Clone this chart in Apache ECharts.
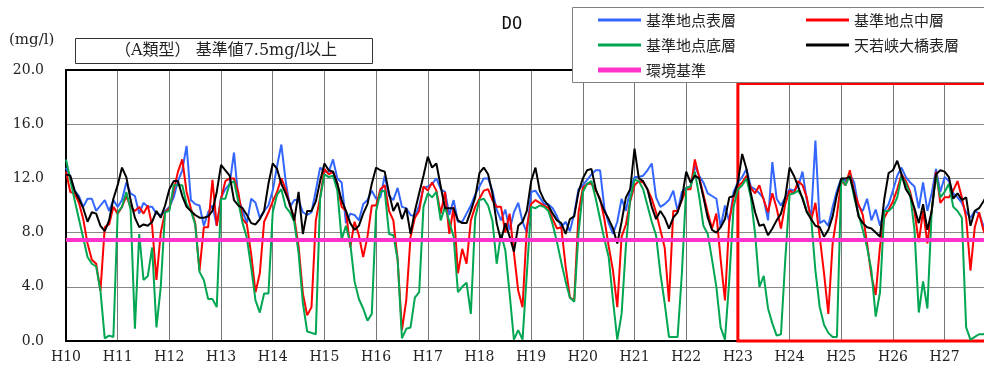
<!DOCTYPE html>
<html>
<head>
<meta charset="utf-8">
<script src="https://cdn.jsdelivr.net/npm/echarts@6/dist/echarts.min.js"></script>
<style>
  html, body { margin: 0; padding: 0; background: #fff; }
  #chart { width: 984px; height: 370px; }
</style>
</head>
<body>
<div id="chart"></div>
<script>
// Fiscal years shown on the time axis (one label per 12 monthly samples)
const years = ['H10','H11','H12','H13','H14','H15','H16','H17','H18','H19',
               'H20','H21','H22','H23','H24','H25','H26','H27'];
const monthNumbers = [1,2,3,4,5,6,7,8,9,10,11,12];

// Y axis range (mg/l)
const yMin = 0, yMax = 20, yStep = 4;

// Environmental standard for type A waters (mg/l)
const standard = 7.5;

// Highlighted period (from H23 onward)
const highlightFrom = 'H23-1';
const highlightTop = 19;

// Monthly DO (mg/l) - 基準地点表層
const surface = [
  12.8, 12.1, 11.1, 10.7, 9.9, 10.5, 10.5, 9.6, 10.0, 10.4, 9.6, 10.4,
  9.9, 10.4, 11.7, 10.9, 10.7, 9.4, 10.2, 9.9, 9.9, 9.4, 9.3, 9.6,
  9.9, 10.6, 11.8, 12.6, 14.4, 10.4, 10.1, 10.0, 8.5, 9.5, 10.0, 8.5,
  10.6, 11.2, 11.6, 13.9, 10.6, 9.6, 8.7, 10.5, 10.2, 9.1, 9.6, 10.0,
  11.1, 12.9, 14.5, 11.8, 9.9, 10.4, 10.4, 9.5, 9.3, 9.5, 11.1, 12.8,
  12.5, 12.5, 13.4, 12.0, 11.7, 8.7, 9.4, 9.3, 8.9, 10.1, 10.4, 11.1,
  10.5, 10.6, 12.2, 10.7, 10.4, 11.3, 9.9, 9.8, 9.3, 9.2, 10.0, 11.3,
  11.4, 11.6, 12.0, 11.2, 11.0, 9.3, 10.4, 8.8, 8.8, 9.4, 10.0, 10.8,
  11.4, 12.0, 12.0, 11.1, 9.7, 8.9, 9.7, 8.2, 9.5, 10.2, 8.8, 8.0,
  11.0, 11.1, 10.6, 10.1, 10.1, 9.8, 9.2, 8.4, 8.8, 8.1, 9.4, 11.2,
  11.5, 11.9, 12.3, 12.6, 12.6, 9.8, 8.7, 7.9, 8.8, 10.5, 9.6, 11.2,
  12.1, 12.1, 12.2, 12.6, 13.1, 10.6, 9.9, 10.1, 10.4, 11.1, 9.6, 11.0,
  11.3, 11.4, 12.9, 12.2, 11.7, 10.9, 10.7, 10.5, 8.4, 10.0, 8.8, 11.0,
  11.7, 12.1, 12.7, 11.4, 11.2, 10.9, 10.5, 8.9, 13.2, 10.5, 10.0, 10.6,
  11.2, 11.1, 11.4, 12.5, 10.4, 9.1, 14.8, 8.7, 8.9, 8.5, 9.9, 11.1,
  12.0, 11.8, 12.3, 11.7, 9.9, 9.6, 10.5, 8.9, 9.7, 8.5, 9.6, 10.1,
  11.1, 12.2, 12.8, 12.1, 11.7, 11.4, 9.8, 11.7, 9.6, 10.9, 12.7, 11.0,
  12.1, 11.8, 10.9, 10.6, 10.2, 9.5, 9.1, 9.6, 9.4, 8.5, 8.3
];

// Monthly DO (mg/l) - 基準地点中層
const middle = [
  12.5, 11.0, 10.9, 10.2, 9.0, 7.2, 6.0, 5.7, 3.7, 8.4, 8.6, 9.9,
  9.4, 9.9, 10.7, 9.9, 9.6, 9.9, 9.4, 10.0, 8.5, 4.5, 8.0, 9.5,
  9.8, 11.1, 12.5, 13.4, 11.0, 9.8, 8.7, 5.2, 8.4, 8.4, 11.9, 8.5,
  10.5, 11.8, 12.0, 12.0, 11.0, 9.0, 8.6, 6.4, 3.6, 5.0, 8.8, 9.5,
  10.3, 11.0, 12.0, 11.2, 10.0, 9.1, 7.0, 3.5, 1.9, 2.5, 8.9, 10.6,
  12.7, 12.3, 12.5, 11.6, 9.9, 9.6, 6.9, 8.8, 7.8, 6.2, 7.7, 10.0,
  10.0, 11.2, 11.5, 9.6, 8.9, 6.0, 0.8, 3.0, 7.7, 9.1, 9.6, 11.4,
  11.1, 11.7, 11.1, 9.4, 11.0, 7.9, 9.9, 5.0, 6.8, 5.7, 8.9, 9.9,
  10.5, 11.1, 11.2, 10.4, 9.9, 9.9, 8.0, 9.4, 6.5, 3.7, 2.5, 8.4,
  10.1, 10.4, 10.2, 10.0, 9.8, 9.0, 8.3, 8.4, 5.5, 3.2, 3.0, 9.5,
  11.3, 11.6, 11.6, 11.1, 10.5, 9.0, 7.0, 5.2, 2.5, 7.7, 8.6, 10.3,
  11.5, 11.8, 11.7, 11.2, 10.5, 9.5, 8.2, 6.9, 2.9, 9.6, 9.6, 10.4,
  11.2, 11.2, 13.4, 12.1, 10.8, 9.5, 8.3, 9.4, 6.0, 3.0, 8.9, 10.6,
  11.4, 11.7, 12.2, 11.3, 10.9, 11.5, 10.4, 9.5, 10.9, 9.8, 8.3, 10.1,
  11.1, 10.9, 11.8, 11.5, 10.6, 8.9, 10.2, 7.7, 5.0, 2.0, 7.2, 9.3,
  11.8, 11.5, 12.6, 11.0, 10.1, 9.3, 7.2, 4.8, 3.4, 7.0, 9.1, 9.7,
  10.3, 11.2, 12.3, 11.8, 11.0, 9.6, 7.3, 9.6, 7.2, 9.6, 12.5, 10.2,
  10.6, 10.6, 11.1, 11.8, 10.6, 9.1, 5.2, 8.4, 9.5, 8.2, 7.4
];

// Monthly DO (mg/l) - 基準地点底層
const bottom = [
  13.4, 11.9, 10.4, 9.0, 7.6, 6.2, 5.7, 5.5, 3.7, 0.2, 0.4, 0.3,
  9.5, 9.9, 11.0, 9.7, 0.9, 7.9, 4.5, 4.8, 6.9, 1.0, 4.0, 9.5,
  9.6, 11.5, 11.5, 11.5, 10.1, 9.6, 8.6, 5.1, 4.5, 3.1, 3.1, 2.5,
  10.5, 10.5, 11.6, 11.8, 10.3, 8.7, 7.6, 5.4, 3.0, 2.1, 3.5, 3.5,
  9.5, 10.8, 11.2, 9.9, 9.5, 8.8, 6.5, 2.8, 0.7, 0.6, 0.5, 10.5,
  12.3, 12.1, 12.2, 11.1, 7.5, 8.5, 7.2, 4.4, 3.1, 2.4, 1.5, 2.0,
  9.6, 11.0, 11.1, 7.9, 7.8, 6.0, 0.2, 0.9, 1.0, 3.2, 3.6, 9.9,
  10.9, 10.6, 11.0, 8.9, 9.9, 8.8, 7.7, 3.6, 4.0, 4.3, 2.0, 9.1,
  10.4, 10.5, 10.0, 8.9, 5.7, 7.9, 6.7, 3.5, 0.1, 0.8, 0.1, 5.0,
  9.9, 9.8, 10.0, 9.9, 9.6, 8.6, 7.3, 5.8, 4.4, 3.2, 2.9, 8.0,
  11.0, 11.6, 11.8, 10.5, 9.0, 7.5, 6.2, 3.0, 0.1, 2.0, 7.0, 10.5,
  11.9, 11.8, 11.2, 10.0, 8.8, 7.8, 5.0, 2.8, 0.3, 0.3, 0.3, 5.0,
  11.3, 11.4, 12.5, 10.7, 8.5, 7.9, 6.0, 4.0, 1.0, 0.1, 4.5, 9.9,
  11.2, 11.5, 12.0, 10.6, 7.9, 4.0, 4.8, 2.4, 1.3, 0.4, 0.5, 6.0,
  10.8, 10.9, 11.1, 10.6, 9.6, 9.1, 5.2, 2.5, 1.2, 0.6, 0.3, 0.3,
  12.0, 11.5, 12.2, 10.6, 9.4, 8.2, 6.9, 5.2, 1.8, 3.6, 9.6, 9.6,
  9.9, 10.6, 12.2, 11.6, 10.8, 8.2, 2.1, 4.4, 2.4, 9.6, 12.3, 10.6,
  11.0, 11.6, 9.9, 9.6, 9.1, 1.0, 0.1, 0.3, 0.5, 0.5, 0.6
];

// Monthly DO (mg/l) - 天若峡大橋表層
const bridge = [
  12.3, 12.2, 11.1, 10.5, 9.8, 8.8, 9.5, 9.4, 8.5, 8.1, 8.9, 10.5,
  11.5, 12.8, 12.1, 10.4, 9.1, 8.4, 8.6, 8.5, 8.8, 9.6, 9.1, 10.0,
  11.2, 11.8, 11.8, 10.7, 9.9, 9.6, 9.3, 9.1, 9.1, 9.2, 9.6, 11.0,
  13.0, 12.6, 12.2, 10.4, 10.0, 9.8, 9.3, 8.7, 8.6, 9.0, 9.6, 11.6,
  13.1, 12.7, 11.6, 10.9, 10.1, 8.9, 11.0, 7.9, 9.6, 9.6, 10.3, 11.8,
  13.1, 12.6, 12.5, 11.6, 10.4, 9.6, 8.7, 8.2, 8.5, 9.4, 10.1, 11.6,
  12.8, 12.6, 12.5, 10.9, 9.6, 10.2, 9.0, 9.8, 7.9, 9.6, 10.9, 12.2,
  13.6, 12.8, 13.1, 11.4, 9.8, 9.8, 9.8, 8.9, 8.7, 8.7, 9.6, 10.6,
  12.4, 12.8, 12.3, 10.9, 8.7, 7.4, 8.7, 7.7, 6.6, 8.5, 8.8, 9.6,
  11.8, 12.8, 11.1, 10.4, 10.0, 9.4, 8.9, 8.7, 7.9, 9.0, 9.2, 11.0,
  12.0, 12.6, 12.7, 11.2, 10.4, 9.6, 9.0, 8.3, 7.2, 8.8, 10.6, 11.2,
  14.2, 12.0, 11.8, 11.2, 9.9, 9.0, 9.6, 9.1, 8.3, 9.1, 9.5, 10.5,
  12.5, 11.7, 12.2, 12.0, 10.6, 9.1, 8.2, 8.0, 8.4, 9.0, 10.6, 10.7,
  11.7, 13.8, 12.7, 10.9, 9.5, 8.5, 8.6, 7.8, 8.3, 8.9, 9.4, 10.6,
  12.8, 12.2, 11.4, 10.5, 9.5, 9.0, 8.5, 8.4, 7.7, 8.2, 9.2, 10.8,
  12.0, 12.0, 12.1, 10.9, 9.2, 8.7, 8.4, 8.3, 8.0, 7.7, 10.5, 12.4,
  12.6, 13.3, 12.3, 11.2, 10.7, 9.8, 8.7, 10.1, 8.2, 9.6, 12.3, 12.6,
  12.5, 12.1, 10.5, 10.9, 10.4, 10.6, 8.5, 9.6, 9.8, 10.3, 10.9
];

// Monthly categories: "H10-1" ... "H27-12"
const months = [];
years.forEach(y => monthNumbers.forEach(m => months.push(y + '-' + m)));

const isYearStart = (idx) => idx % 12 === 0;

const serifFont = '"DejaVu Serif", "Noto Sans CJK JP", serif';
const gothicFont = '"Noto Sans CJK JP", "DejaVu Sans", sans-serif';

function lineSeries(name, data, color) {
  return {
    name: name,
    type: 'line',
    data: data,
    symbol: 'none',
    smooth: false,
    lineStyle: { color: color, width: 2 },
    itemStyle: { color: color },
    emphasis: { disabled: true },
    animation: false
  };
}

const chart = echarts.init(document.getElementById('chart'), null, { renderer: 'canvas' });

const legendText = { fontFamily: gothicFont, fontSize: 15, color: '#222', lineHeight: 18 };

// Legend rows: line icons drawn as flat bars
function legendRow(top, names, barHeight) {
  return {
    left: 598, top: top, padding: 0,
    icon: 'rect', itemWidth: 43, itemHeight: barHeight, itemGap: 70,
    selectedMode: false, z: 20,
    data: names,
    textStyle: legendText
  };
}

const option = {
  animation: false,
  // the plot runs past the right edge of the canvas
  grid: {
    left: 66, top: 70, width: 926, bottom: 29,
    containLabel: false,
    outerBoundsMode: 'none'
  },
  xAxis: [
    {
      type: 'category',
      data: months,
      boundaryGap: false,
      axisLine: { lineStyle: { color: '#000', width: 2 } },
      axisTick: { show: false },
      axisLabel: {
        interval: isYearStart,
        formatter: v => v.split('-')[0],
        margin: 9,
        fontFamily: serifFont,
        fontSize: 14,
        color: '#222'
      },
      splitLine: { show: true, interval: isYearStart, lineStyle: { color: '#777', width: 1 } }
    },
    {
      type: 'category',
      data: months,
      boundaryGap: false,
      position: 'top',
      axisLine: { lineStyle: { color: '#000', width: 2 } },
      axisTick: { show: false },
      axisLabel: { show: false },
      splitLine: { show: false }
    }
  ],
  yAxis: {
    type: 'value',
    min: yMin,
    max: yMax,
    interval: yStep,
    axisLine: { show: true, lineStyle: { color: '#000', width: 2 } },
    axisTick: { show: false },
    axisLabel: {
      formatter: v => v.toFixed(1),
      margin: 22,
      fontFamily: serifFont,
      fontSize: 14,
      color: '#222'
    },
    splitLine: { lineStyle: { color: '#888', width: 1 } }
  },
  legend: [
    legendRow(11, ['基準地点表層', '基準地点中層'], 3),
    legendRow(36, ['基準地点底層', '天若峡大橋表層'], 3),
    legendRow(61, ['環境基準'], 5)
  ],
  graphic: [
    {
      type: 'rect', z: 10, silent: true,
      shape: { x: 572.5, y: 7.5, width: 430, height: 75 },
      style: { fill: '#fff', stroke: '#808080', lineWidth: 1 }
    },
    {
      type: 'rect', z: 10, silent: true,
      shape: { x: 75.5, y: 38.5, width: 297, height: 25 },
      style: { fill: '#fff', stroke: '#333', lineWidth: 1 }
    },
    {
      type: 'text', z: 11, silent: true, x: 226, y: 51,
      style: {
        text: '（A類型） 基準値7.5mg/l以上',
        font: '16px ' + serifFont,
        fill: '#222', align: 'center', verticalAlign: 'middle'
      }
    },
    {
      type: 'text', z: 11, silent: true, x: 9, y: 40,
      style: {
        text: '(mg/l)',
        font: '15px ' + serifFont,
        fill: '#222', align: 'left', verticalAlign: 'middle'
      }
    },
    {
      type: 'text', z: 11, silent: true, x: 512, y: 25,
      style: {
        text: 'DO',
        font: '17px "DejaVu Sans Mono", monospace',
        fill: '#111', align: 'center', verticalAlign: 'middle'
      }
    }
  ],
  series: [
    lineSeries('基準地点表層', surface, '#3366FF'),
    lineSeries('基準地点中層', middle, '#FF0000'),
    lineSeries('基準地点底層', bottom, '#00A651'),
    lineSeries('天若峡大橋表層', bridge, '#000000'),
    {
      name: '環境基準',
      type: 'line',
      data: [],
      symbol: 'none',
      lineStyle: { color: '#FF33CC', width: 4 },
      itemStyle: { color: '#FF33CC' },
      markLine: {
        silent: true,
        symbol: 'none',
        label: { show: false },
        lineStyle: { color: '#FF33CC', width: 4, type: 'solid' },
        data: [{ yAxis: standard }]
      },
      markArea: {
        silent: true,
        label: { show: false },
        itemStyle: { color: 'rgba(0,0,0,0)', borderColor: '#FF0000', borderWidth: 3 },
        data: [[
          { xAxis: highlightFrom, yAxis: yMin },
          { xAxis: months[months.length - 1], yAxis: highlightTop }
        ]]
      }
    }
  ]
};

chart.setOption(option);
</script>
</body>
</html>
